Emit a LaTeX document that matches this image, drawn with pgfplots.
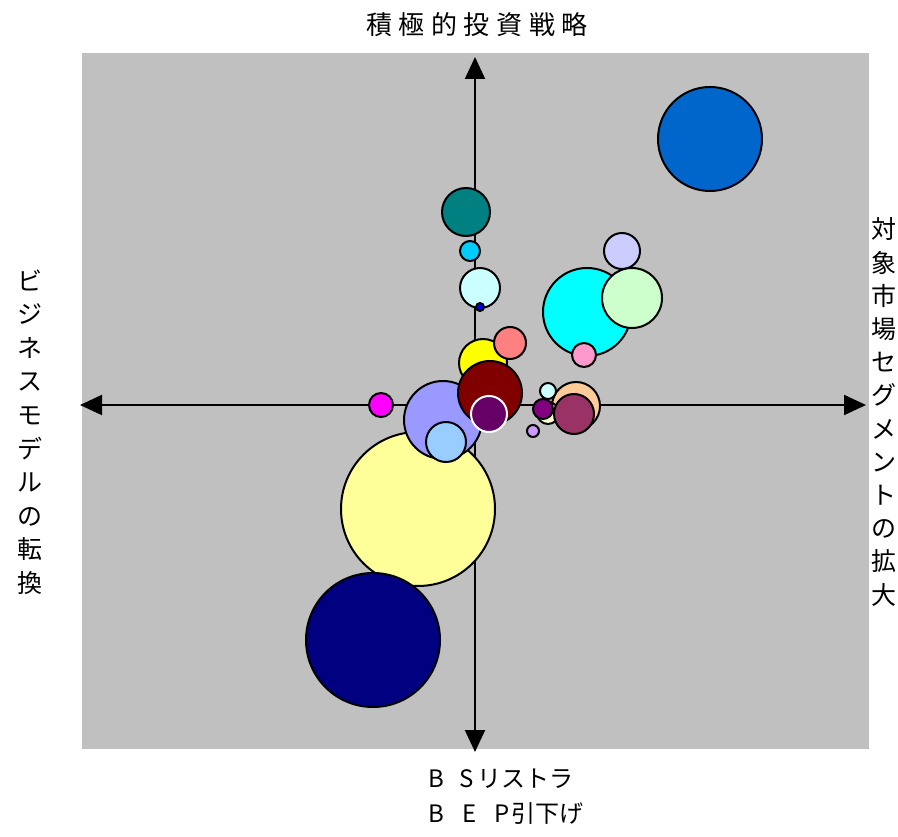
\documentclass[border=0pt]{standalone}
\usepackage{pgfplots}
\pgfplotsset{compat=1.18}
\usetikzlibrary{arrows.meta}
\usepackage{fontspec}
\newfontfamily\jp{Noto Sans CJK JP}
\definecolor{bggray}{HTML}{C0C0C0}
\definecolor{cA}{HTML}{FFFF99}
\definecolor{cB}{HTML}{000080}
\definecolor{cC}{HTML}{0066CC}
\definecolor{cD}{HTML}{008080}
\definecolor{cE}{HTML}{00CCFF}
\definecolor{cF}{HTML}{CCFFFF}
\definecolor{cG}{HTML}{0000FF}
\definecolor{cH}{HTML}{CCCCFF}
\definecolor{cI}{HTML}{00FFFF}
\definecolor{cJ}{HTML}{CCFFCC}
\definecolor{cK}{HTML}{FF99CC}
\definecolor{cL}{HTML}{FFFF00}
\definecolor{cM}{HTML}{FF8080}
\definecolor{cN}{HTML}{FF00FF}
\definecolor{cO}{HTML}{9999FF}
\definecolor{cP}{HTML}{99CCFF}
\definecolor{cQ}{HTML}{800000}
\definecolor{cR}{HTML}{660066}
\definecolor{cS}{HTML}{FFCC99}
\definecolor{cT}{HTML}{FFFFCC}
\definecolor{cU}{HTML}{993366}
\definecolor{cV}{HTML}{800080}
\definecolor{cW}{HTML}{CC99FF}
\newcommand{\bubble}[4]{%
  \addplot[only marks, mark=*, mark size=#2pt,
    mark options={fill=#3, draw=#4, line width=1pt}] coordinates {#1};}
\begin{document}
\begin{tikzpicture}
\begin{axis}[
  scale only axis, width=393.5pt, height=348pt,
  xmin=-393, xmax=394, ymin=-344, ymax=352,
  ticks=none, axis line style={draw=none},
  axis background/.style={fill=bggray},
  clip=false,
]
% invisible bounding frame (898 x 836)
\path (axis cs:-475,-431) rectangle (axis cs:423,405);
% cross arrows
\draw[line width=1pt, {Triangle[length=11pt,width=10pt]}-{Triangle[length=11pt,width=10pt]}] (axis cs:-395,0) -- (axis cs:391,0);
\draw[line width=1pt, {Triangle[length=11pt,width=10pt]}-{Triangle[length=11pt,width=10pt]}] (axis cs:0,348) -- (axis cs:0,-347);
% bubbles: (x,y), radius (pt), fill, outline
\bubble{(-57,-104)}{38.5}{cA}{black}
\bubble{(-102,-235)}{33.5}{cB}{black}
\bubble{(235,266)}{26}{cC}{black}
\bubble{(-9,193)}{12}{cD}{black}
\bubble{(-5,154)}{5}{cE}{black}
\bubble{(5,117)}{10}{cF}{black}
\bubble{(5,98)}{2}{cG}{black}
\bubble{(147,154)}{9}{cH}{black}
\bubble{(112,93)}{22}{cI}{black}
\bubble{(157,107)}{15}{cJ}{black}
\bubble{(109,50)}{6}{cK}{black}
\bubble{(8,42)}{12}{cL}{black}
\bubble{(35,62)}{8}{cM}{black}
\bubble{(-94,0)}{6}{cN}{black}
\bubble{(-32,-15)}{19.5}{cO}{black}
\bubble{(-29,-37)}{10}{cP}{black}
\bubble{(15,12)}{16}{cQ}{black}
\bubble{(14,-9)}{9}{cR}{white}
\bubble{(101,-1)}{12}{cS}{black}
\bubble{(73,-8)}{5.5}{cT}{black}
\bubble{(99,-9)}{10}{cU}{black}
\bubble{(73,14)}{4}{cF}{black}
\bubble{(68,-4)}{5}{cV}{black}
\bubble{(58,-26)}{3}{cW}{black}
% labels
\node[inner sep=0pt, font=\jp\fontsize{13}{15}\selectfont] at (axis cs:2,380)
  {積\hspace{3.3pt}極\hspace{3.3pt}的\hspace{3.3pt}投\hspace{3.3pt}資\hspace{3.3pt}戦\hspace{3.3pt}略};
\node[inner sep=0pt, align=center, font=\jp\fontsize{12.5}{16.8}\selectfont] at (axis cs:-445,-27)
  {ビ\\ジ\\ネ\\ス\\モ\\デ\\ル\\の\\転\\換};
\node[inner sep=0pt, align=center, font=\jp\fontsize{12.5}{16.6}\selectfont] at (axis cs:409,-7)
  {対\\象\\市\\場\\セ\\グ\\メ\\ン\\ト\\の\\拡\\大};
\node[inner sep=0pt, align=left, anchor=west, font=\jp\fontsize{12}{17.5}\selectfont] at (axis cs:-47,-392)
  {B\hspace{7.5pt}S\hspace{2pt}リストラ\\B\hspace{9pt}E\hspace{9pt}P\hspace{1pt}引下げ};
\end{axis}
\end{tikzpicture}
\end{document}
